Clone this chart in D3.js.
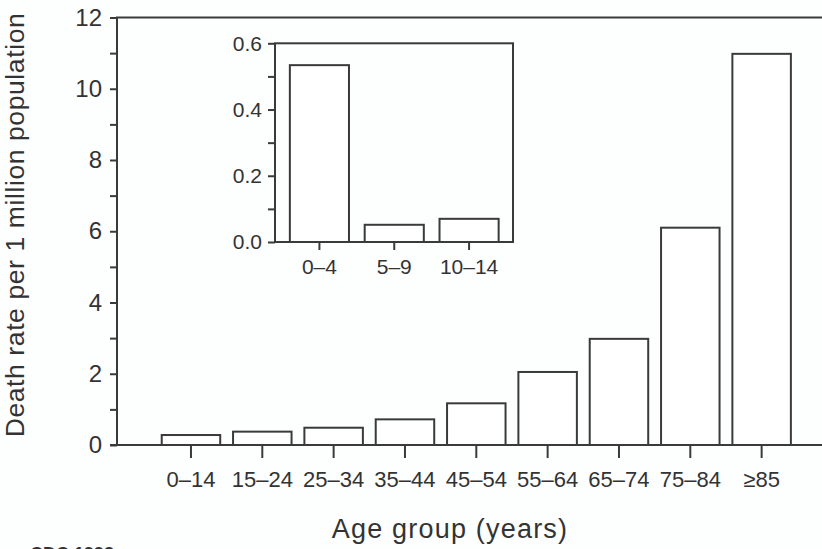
<!DOCTYPE html>
<html>
<head>
<meta charset="utf-8">
<script src="https://cdnjs.cloudflare.com/ajax/libs/d3/7.8.5/d3.min.js"></script>
<style>
  body { margin: 0; background: #fdfefe; }
  svg { display: block; font-family: "Liberation Sans", Arial, sans-serif; }
  .axis path, .axis line { stroke: #3a3a3a; stroke-width: 2; }
  .axis text { fill: #333; }
</style>
</head>
<body>
<svg width="822" height="549"></svg>
<script>
// main chart
var ageGroups = ["0\u201314", "15\u201324", "25\u201334", "35\u201344", "45\u201354", "55\u201364", "65\u201374", "75\u201384", "\u226585"];
var deathRates = [0.28, 0.375, 0.485, 0.72, 1.17, 2.05, 2.98, 6.1, 10.98];
var yTicks = [0, 1, 2, 3, 4, 5, 6, 7, 8, 9, 10, 11, 12];
var yLabels = [0, 2, 4, 6, 8, 10, 12];

// inset (children)
var insetGroups = ["0\u20134", "5\u20139", "10\u201314"];
var insetRates = [0.534, 0.052, 0.070];
var insetTicks = [0, 0.1, 0.2, 0.3, 0.4, 0.5, 0.6];
var insetLabels = [0, 0.2, 0.4, 0.6];

var svg = d3.select("svg");
var ink = "#3a3a3a";

var x = d3.scaleBand().domain(ageGroups).range([155.3, 797.3])
        .paddingInner(0.18).paddingOuter(0.09),
    y = d3.scaleLinear().domain([0, 12]).range([445, 17.5]);

// frame (right side runs off the picture)
svg.append("rect")
    .attr("x", 117).attr("y", y(12))
    .attr("width", 730).attr("height", y(0) - y(12))
    .attr("fill", "none").attr("stroke", ink).attr("stroke-width", 2);

svg.append("g")
    .attr("class", "bars")
    .selectAll("rect")
    .data(deathRates)
    .enter().append("rect")
    .attr("x", function (d, i) { return x(ageGroups[i]); })
    .attr("y", function (d) { return y(d); })
    .attr("width", x.bandwidth())
    .attr("height", function (d) { return y(0) - y(d); })
    .attr("fill", "#fff").attr("stroke", ink).attr("stroke-width", 2);

var yAxis = d3.axisLeft(y).tickValues(yTicks).tickSize(7).tickPadding(8)
    .tickFormat(function (d) { return yLabels.indexOf(d) >= 0 ? d : ""; });
svg.append("g")
    .attr("class", "axis axis--y")
    .attr("transform", "translate(117,0)")
    .call(yAxis)
    .call(function (g) { g.select(".domain").remove(); })
    .selectAll("text").style("font-size", "24px");

var xAxis = d3.axisBottom(x).tickSize(13).tickPadding(13);
svg.append("g")
    .attr("class", "axis axis--x")
    .attr("transform", "translate(0," + y(0) + ")")
    .call(xAxis)
    .call(function (g) { g.select(".domain").remove(); })
    .selectAll("text").style("font-size", "22px");

// x axis line, starting at the 0 tick left of the y axis
svg.append("line")
    .attr("x1", 110).attr("x2", 822).attr("y1", y(0)).attr("y2", y(0))
    .attr("stroke", ink).attr("stroke-width", 2);

svg.append("text")
    .attr("transform", "translate(24," + 225 + ") rotate(-90)")
    .attr("text-anchor", "middle")
    .style("font-size", "26.5px").style("letter-spacing", "0.6px")
    .attr("fill", "#333")
    .text("Death rate per 1 million population");

svg.append("text")
    .attr("x", 450).attr("y", 538)
    .attr("text-anchor", "middle")
    .style("font-size", "27px").style("letter-spacing", "1.2px")
    .attr("fill", "#333")
    .text("Age group (years)");

svg.append("text")
    .attr("x", 30).attr("y", 560)
    .style("font-size", "18px").style("font-weight", "bold")
    .attr("fill", "#333")
    .text("CDC 1993");

// inset
var xi = d3.scaleBand().domain(insetGroups).range([282, 506.5])
        .paddingInner(0.21).paddingOuter(0.105),
    yi = d3.scaleLinear().domain([0, 0.6]).range([242, 43.3]);

svg.append("rect")
    .attr("x", 275).attr("y", yi(0.6))
    .attr("width", 513 - 275).attr("height", yi(0) - yi(0.6))
    .attr("fill", "#fdfefe").attr("stroke", ink).attr("stroke-width", 2);

svg.append("g")
    .selectAll("rect")
    .data(insetRates)
    .enter().append("rect")
    .attr("x", function (d, i) { return xi(insetGroups[i]); })
    .attr("y", function (d) { return yi(d); })
    .attr("width", xi.bandwidth())
    .attr("height", function (d) { return yi(0) - yi(d); })
    .attr("fill", "#fff").attr("stroke", ink).attr("stroke-width", 2);

svg.append("g")
    .attr("class", "axis")
    .attr("transform", "translate(275,0)")
    .call(d3.axisLeft(yi).tickValues(insetTicks).tickSize(7).tickPadding(6)
        .tickFormat(function (d) { return insetLabels.indexOf(d) >= 0 ? d3.format(".1f")(d) : ""; }))
    .call(function (g) { g.select(".domain").remove(); })
    .selectAll("text").style("font-size", "21px");

svg.append("g")
    .attr("class", "axis")
    .attr("transform", "translate(0," + yi(0) + ")")
    .call(d3.axisBottom(xi).tickSize(8).tickPadding(9))
    .call(function (g) { g.select(".domain").remove(); })
    .selectAll("text").style("font-size", "21px");
</script>
</body>
</html>
